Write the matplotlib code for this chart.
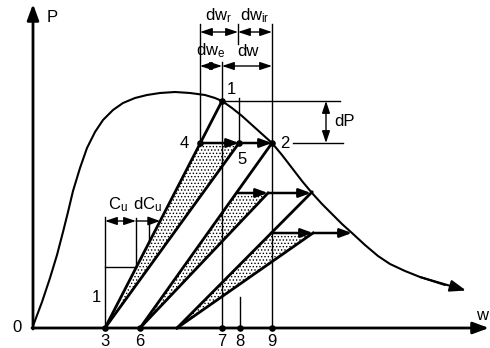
"""
Schematic P-w diagram: elastic / irreversible wedges under a softening curve
"""
import matplotlib
matplotlib.use("Agg")
import matplotlib.pyplot as plt
from matplotlib.patches import Polygon

plt.rcParams['font.family'] = ['Liberation Sans', 'DejaVu Sans']
plt.rcParams['mathtext.default'] = 'regular'
plt.rcParams['hatch.linewidth'] = 0.6

# load-displacement curve (pixel units)
curve_x = [33, 42, 50, 57, 63, 68, 73, 80, 87, 95, 103, 113, 123, 135, 147, 160,
           175, 190, 205, 215, 222, 232, 242, 252, 262, 272, 282, 292, 302, 312,
           322, 332, 342, 352, 365, 378, 390, 405, 420, 445, 466]
curve_y = [326, 302, 278, 255, 232, 212, 191, 168, 148, 132, 120, 110, 103, 98, 95, 93,
           92, 93, 95, 98, 101, 108, 116, 125, 134, 143, 155, 168, 181, 193,
           204, 214, 224, 233, 245, 256, 264, 271, 277, 285, 290.5]

# numbered points
pt_x = [222, 272, 200, 239, 105, 140, 222, 240, 272]
pt_y = [101, 143, 143, 143, 328, 328, 328, 328, 328]

# wedges: apex on the w axis, top-left corner, top-right corner, end point on curve
wedge_apex = [105, 140, 177]
wedge_left = [200, 237, 271]
wedge_right = [239, 268, 313]
wedge_top = [143, 193, 233]
curve_hit_x = [222, 272, 312]
curve_hit_y = [101, 143, 192]
arrow_end = [272, 311, 352]

fig = plt.figure(figsize=(4.9, 3.48), dpi=100)
ax = fig.add_axes([0, 0, 1, 1])
ax.set_xlim(0, 490)
ax.set_ylim(348, 0)
ax.axis('off')

k = 'black'
head = '-|>,head_length=0.6,head_width=0.22'
dhead = '<|-|>,head_length=0.6,head_width=0.2'

# axes with arrows
ax.annotate('', xy=(33, 4), xytext=(33, 329),
            arrowprops=dict(arrowstyle=head, color=k, lw=2, mutation_scale=16,
                            shrinkA=0, shrinkB=0))
ax.annotate('', xy=(489, 328), xytext=(32, 328),
            arrowprops=dict(arrowstyle=head, color=k, lw=2, mutation_scale=16,
                            shrinkA=0, shrinkB=0))

# curve
ax.plot(curve_x[:-1], curve_y[:-1], color=k, lw=1.5, solid_capstyle='round')
ax.annotate('', xy=(curve_x[-1], curve_y[-1]), xytext=(curve_x[-3], curve_y[-3]),
            arrowprops=dict(arrowstyle=head, color=k, lw=1.5, mutation_scale=16,
                            shrinkA=0, shrinkB=0))

# stippled wedges and their edges
for i in range(3):
    a = (wedge_apex[i], 328)
    tl = (wedge_left[i], wedge_top[i])
    tr = (wedge_right[i], wedge_top[i])
    ax.add_patch(Polygon([a, tl, tr], closed=True, facecolor='white',
                         edgecolor=k, lw=0, hatch='.....'))
    ax.plot([a[0], curve_hit_x[i]], [328, curve_hit_y[i]], color=k, lw=2)
    ax.plot([a[0], tr[0]], [328, tr[1]], color=k, lw=2)
    for x0, x1 in [(wedge_left[i], wedge_right[i]), (wedge_right[i], arrow_end[i])]:
        ax.annotate('', xy=(x1, wedge_top[i]), xytext=(x0, wedge_top[i]),
                    arrowprops=dict(arrowstyle=head, color=k, lw=1.8,
                                    mutation_scale=12, shrinkA=0, shrinkB=0))

# thin construction lines
thin = dict(color=k, lw=1)
ax.plot([200, 200], [24, 143], **thin)
ax.plot([222, 222], [62, 328], **thin)
ax.plot([238, 238], [24, 44], **thin)
ax.plot([239, 239], [98, 143], **thin)
ax.plot([240, 240], [297, 328], **thin)
ax.plot([272, 272], [24, 328], **thin)
ax.plot([222, 340], [101, 101], **thin)
ax.plot([293, 343], [143, 143], **thin)
# unit slope triangle and C_u dimension
ax.plot([105, 105], [217, 328], **thin)
ax.plot([105, 136], [267, 267], **thin)
ax.plot([136, 136], [218, 267], **thin)
ax.plot([149, 149], [218, 243], **thin)


def dim(x0, y0, x1, y1):
    ax.annotate('', xy=(x1, y1), xytext=(x0, y0),
                arrowprops=dict(arrowstyle=dhead, color=k, lw=1,
                                mutation_scale=12, shrinkA=0, shrinkB=0))


dim(200, 32, 238, 32)
dim(238, 32, 272, 32)
dim(200, 66, 222, 66)
dim(222, 66, 272, 66)
dim(326, 101, 326, 143)
dim(105, 221, 136, 221)
ax.annotate('', xy=(160, 221), xytext=(136, 221),
            arrowprops=dict(arrowstyle=head, color=k, lw=1, mutation_scale=12,
                            shrinkA=0, shrinkB=0))

# points
ax.scatter(pt_x, pt_y, s=14, color=k, zorder=5)

txt = dict(fontsize=12, ha='center', va='center', color=k)
ax.text(231, 90, '1', **txt)
ax.text(285, 143, '2', **txt)
ax.text(184, 143, '4', **txt)
ax.text(242, 159, '5', **txt)
ax.text(96, 298, '1', **txt)
ax.text(17, 328, '0', **txt)
for lab, x in zip(['3', '6', '7', '8', '9'], [105, 140, 222, 240, 272]):
    ax.text(x, 341, lab, **txt)
ax.text(52, 18, 'P', **txt)
ax.text(482, 315, 'w', **txt)
ax.text(219, 16, r'dw$_r$', **txt)
ax.text(255, 16, r'dw$_{ir}$', **txt)
ax.text(211, 51, r'dw$_e$', **txt)
ax.text(248, 52, 'dw', **txt)
ax.text(118, 205, r'C$_u$', **txt)
ax.text(148, 205, r'dC$_u$', **txt)
ax.text(344, 122, 'dP', **txt)

fig.savefig('out.png', dpi=100)
